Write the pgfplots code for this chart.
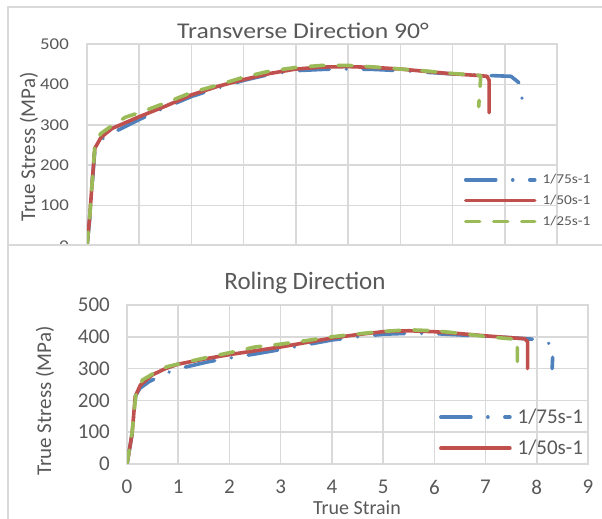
\documentclass[border=0pt]{standalone}
\usepackage{pgfplots}
\pgfplotsset{compat=1.18}
\usepackage{fontspec}
\setmainfont{Carlito}
\newfontfamily\topfont{Carlito}[FakeStretch=1.14]
\definecolor{gridgray}{HTML}{D9D9D9}
\definecolor{txtgray}{HTML}{595959}
\definecolor{xlblue}{HTML}{4F81BD}
\definecolor{xlred}{HTML}{C0504D}
\definecolor{xlgreen}{HTML}{9BBB59}
\pgfplotsset{
  s75/.style={color=xlblue, line width=3.6pt, line cap=round, line join=round, dash pattern=on 30pt off 17pt on 0.01pt off 17pt},
  s50/.style={color=xlred, line width=3.6pt, line cap=round, line join=round},
  s25/.style={color=xlgreen, line width=3.6pt, line cap=round, line join=round, dash pattern=on 14pt off 14pt},
  xlbase/.style={
    scale only axis, xmin=0, xmax=9, ymin=0, ymax=500,
    xtick={0,...,9}, ytick={0,100,...,500},
    grid=major, major grid style={gridgray, line width=1.6pt},
    axis line style={gridgray, line width=1.6pt},
    major tick length=0pt,
    /pgf/number format/assume math mode=true,
    tick label style={text=txtgray},
    legend image code/.code={\draw[##1] (0pt,0pt) -- (69pt,0pt);},
  },
}
\begin{document}
\begin{tikzpicture}[x=1pt,y=1pt]
\clip (0pt,0pt) rectangle (602pt,519pt);
\fill[white] (0pt,0pt) rectangle (602pt,519pt);
% top chart frame
\draw[gridgray, line width=1.5pt, fill=white] (8pt,-20pt) rectangle (640pt,512pt);
\begin{axis}[xlbase,
  at={(87pt,273pt)}, anchor=south west, width=470pt, height=202pt,
  xticklabels={},
  yticklabel style={font=\topfont\fontsize{16.5}{18}\selectfont, inner sep=0pt, xshift=-18pt},
  legend style={draw=none, fill=none, inner sep=0pt, outer sep=0pt,
    at={(0.802,0.355)}, anchor=north west, row sep=10pt, column sep=6pt,
    font=\topfont\fontsize{13.5}{14}\selectfont, text=txtgray,
    nodes={inner sep=0pt}},
  legend cell align=left,
]
\addplot[s75] coordinates {(0,0) (0.05,65) (0.1,155) (0.15,238) (0.25,262) (0.52,282) (1,313) (1.5,343) (2,370) (2.5,391) (3,410) (3.5,425) (4,434) (4.5,437) (5,438) (5.5,437) (6,434) (6.5,430) (7,426) (7.5,423) (8.12,420) (8.33,398) (8.33,330)};
\addlegendentry{1/75s-1}
\addplot[s50] coordinates {(0,0) (0.05,70) (0.1,160) (0.15,242) (0.27,269) (0.48,291) (1,320) (1.5,346) (2,374) (2.5,395) (3,412) (3.5,427) (4,438) (4.5,443) (5,444) (5.5,442) (6,438) (6.5,432) (7,426) (7.5,422) (7.66,420) (7.70,410) (7.70,330)};
\addlegendentry{1/50s-1}
\addplot[s25] coordinates {(0,0) (0.05,70) (0.1,160) (0.15,245) (0.26,278) (0.49,299) (0.74,319) (1,330) (1.5,354) (2,380) (2.5,398) (3,418) (3.5,433) (4,442) (4.5,447) (5,447) (5.5,443) (6,438) (6.5,433) (7,427) (7.54,422) (7.52,380) (7.50,345)};
\addlegendentry{1/25s-1}
\end{axis}
\node[font=\topfont\fontsize{22.5}{24}\selectfont, text=txtgray] at (303pt,488pt) {Transverse Direction 90°};
\node[rotate=90, font=\fontsize{21}{22}\selectfont, text=txtgray] at (29pt,372pt) {True Stress (MPa)};
% bottom chart frame (covers lower part of top chart)
\draw[gridgray, line width=1.5pt, fill=white] (8pt,-20pt) rectangle (640pt,274pt);
\begin{axis}[xlbase,
  at={(127pt,55pt)}, anchor=south west, width=461pt, height=159pt,
  yticklabel style={font=\fontsize{21}{22}\selectfont, inner sep=0pt, xshift=-17pt},
  xticklabel style={font=\fontsize{21}{22}\selectfont, inner sep=0pt, yshift=-16pt},
  legend style={draw=none, fill=none, inner sep=0pt, outer sep=0pt,
    at={(0.677,0.345)}, anchor=north west, row sep=15pt, column sep=6pt,
    font=\fontsize{21}{22}\selectfont, text=txtgray,
    nodes={inner sep=0pt}},
  legend cell align=left,
]
\addplot[s75] coordinates {(0,0) (0.1,95) (0.17,215) (0.25,238) (0.43,259) (0.75,285) (1.04,301) (1.6,322) (2,333) (2.5,346) (3,360) (3.5,375) (4,390) (4.5,400) (5,408) (5.5,411) (6,410) (6.5,406) (7,401) (7.5,397) (8.05,391) (8.32,374) (8.3,300)};
\addlegendentry{1/75s-1}
\addplot[s50] coordinates {(0,0) (0.1,96) (0.16,212) (0.26,248) (0.49,280) (0.75,300) (1,314) (1.5,330) (2,344) (2.5,356) (3,368) (3.5,382) (4,396) (4.5,407) (5,416) (5.5,419) (6,416) (6.5,410) (7,403) (7.5,397) (7.76,394) (7.82,385) (7.82,300)};
\addlegendentry{1/50s-1}
\addplot[s25, forget plot] coordinates {(0,0) (0.1,100) (0.17,215) (0.3,264) (0.52,285) (0.78,306) (1.07,317) (1.5,333) (2,350) (2.5,368) (3,377) (3.5,388) (4,400) (4.5,409) (5,417) (5.5,422) (6,419) (6.5,411) (7,401) (7.4,395) (7.62,392) (7.62,300)};
\end{axis}
\node[font=\fontsize{25}{26}\selectfont, text=txtgray] at (305pt,236pt) {Roling Direction};
\node[rotate=90, font=\fontsize{21}{22}\selectfont, text=txtgray] at (45pt,118pt) {True Stress (MPa)};
\node[font=\fontsize{20}{21}\selectfont, text=txtgray, inner sep=0pt] at (357pt,11pt) {True Strain};
\end{tikzpicture}
\end{document}
